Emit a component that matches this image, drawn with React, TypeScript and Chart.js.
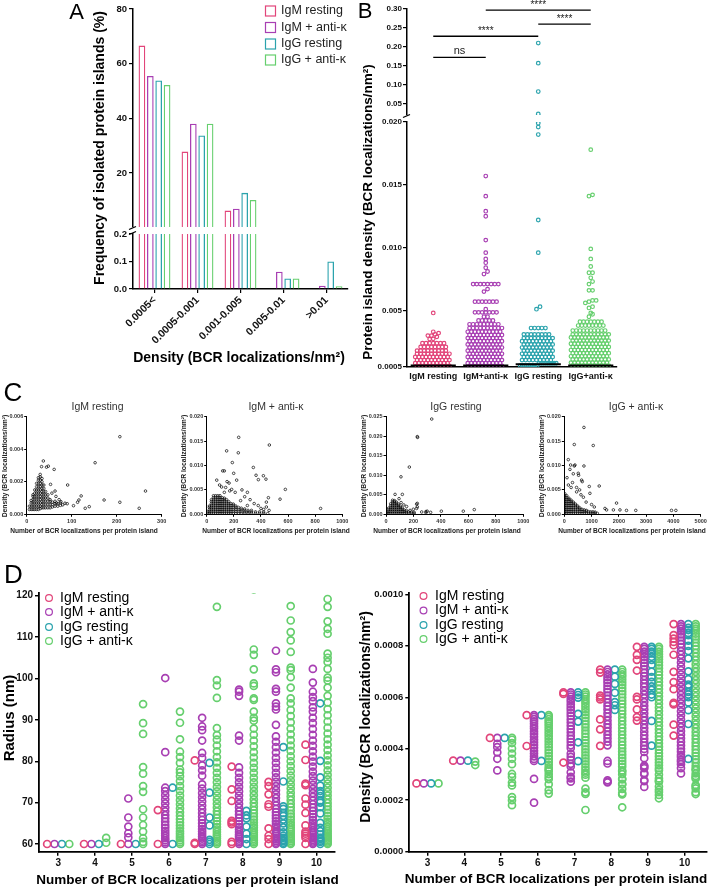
import React, { useEffect, useRef } from 'react';
import { Chart, registerables } from 'chart.js';

Chart.register(...registerables);

const PAGE_W = 713;
const PAGE_H = 888;
const FF = '"Liberation Sans", Arial, Helvetica, sans-serif';

const RED = '#E2457A';
const PURPLE = '#A83FB3';
const TEAL = '#2BA3AD';
const GREEN = '#66CF6E';
const SERIES_COLORS = [RED, PURPLE, TEAL, GREEN];
const SERIES_NAMES = ['IgM resting', 'IgM + anti-κ', 'IgG resting', 'IgG + anti-κ'];

// ================= Panel A (frequency, %) =================
const aCategories = ['0.0005<', '0.0005-0.001', '0.001-0.005', '0.005-0.01', '>0.01'];
const aIgMResting = [66.6, 27.8, 6.2, 0, 0];
const aIgMAnti = [55.5, 38.0, 6.9, 0.063, 0.012];
const aIgGResting = [53.8, 33.7, 12.7, 0.038, 0.1];
const aIgGAnti = [52.2, 38.0, 10.1, 0.038, 0.01];
const aUpperTicks = [20, 40, 60, 80];
const aLowerTicks = [0, 0.1, 0.2];

// ================= Panel B (density per island) =================
const bGroups = ['IgM resting', 'IgM+anti-κ', 'IgG resting', 'IgG+anti-κ'];
// individually visible points
const bIgMRestingPoints = [0.0048, 0.0033, 0.0032, 0.0031, 0.003, 0.003, 0.0029, 0.00274, 0.00272];
const bIgMAntiPoints = [0.0157, 0.0141, 0.0129, 0.0125, 0.0106, 0.0096, 0.0091, 0.0088, 0.0084, 0.0081, 0.0079, 0.0067, 0.0065, 0.0051, 0.0045, 0.0045];
const bIgGRestingPoints = [0.21, 0.157, 0.082, 0.0226, 0.0199, 0.0196, 0.019, 0.0122, 0.0096, 0.0053, 0.0051];
const bIgGAntiPoints = [0.0178, 0.0142, 0.0141, 0.0099, 0.0091, 0.0085, 0.008, 0.008, 0.0076, 0.0073, 0.0071, 0.0066, 0.0066, 0.0058, 0.0058, 0.0057, 0.0056, 0.0053, 0.0052, 0.0048, 0.0047, 0.0045];
// dense rows: [density, number of points in the row]
const bIgMRestingRows = [[0.0024, 7], [0.0021, 8], [0.0018, 9], [0.00155, 10], [0.0013, 10], [0.00105, 10], [0.0008, 10], [0.00058, 10]];
const bIgMAntiRows = [[0.0071, 8], [0.0057, 7], [0.00485, 7], [0.0042, 5], [0.0039, 9], [0.0036, 10], [0.0033, 10], [0.00305, 10], [0.0028, 10], [0.00255, 10], [0.0023, 10], [0.00205, 10], [0.0018, 10], [0.00155, 10], [0.0013, 10], [0.00105, 10], [0.0008, 10], [0.00058, 10]];
const bIgGRestingRows = [[0.0036, 5], [0.0031, 8], [0.0028, 9], [0.00255, 9], [0.0023, 9], [0.00205, 9], [0.0018, 9], [0.00155, 9], [0.0013, 9], [0.00105, 9], [0.0008, 9], [0.00062, 9]];
const bIgGAntiRows = [[0.0041, 7], [0.0038, 8], [0.0034, 10], [0.0031, 11], [0.00285, 11], [0.0026, 11], [0.00235, 11], [0.0021, 11], [0.00185, 11], [0.0016, 11], [0.00135, 11], [0.0011, 11], [0.00085, 11], [0.0006, 11]];
const bMedians = [0.00062, 0.00062, 0.00071, 0.00062];
const bUpperTicks = [0.05, 0.1, 0.15, 0.2, 0.25, 0.3];
const bLowerTicks = [0.0005, 0.005, 0.01, 0.015, 0.02];
const bBrackets = [
  { from: 0, to: 1, at: 0.172, label: 'ns' },
  { from: 0, to: 2, at: 0.228, label: '****' },
  { from: 2, to: 3, at: 0.26, label: '****' },
  { from: 1, to: 3, at: 0.297, label: '****' },
];

// ================= Panel C (density vs. localizations) =================
// columns: [x, y1, y2, ...] with y in 1e-4 localizations/nm²; singles: [x, y]
const cIgMRestingCols = [
  [6, 3, 5], [10, 3, 5, 7, 8.5], [14, 3, 5, 7, 9, 11, 12], [18, 3, 5, 7, 9, 11, 13, 15],
  [22, 3, 5, 7, 9, 11, 13, 15, 17, 19], [26, 3, 5, 7, 9, 11, 13, 15, 17, 19, 21, 22.5],
  [30, 3.5, 5, 7, 9, 11, 13, 15, 17, 19, 21, 23, 24.5], [34, 4, 6, 8, 10, 12, 14, 16, 18, 20, 22],
  [38, 4, 6, 8, 10, 12, 14, 16, 18], [42, 4, 6, 8, 10, 12, 14], [47, 4, 6, 8, 10, 12],
  [52, 4, 6, 8, 9], [57, 4.5, 6, 7.5], [63, 5, 6.5, 8], [69, 5, 6.5], [75, 5.5, 7],
];
const cIgMRestingSingles = [
  [207, 47.7], [152, 31.7], [264, 14.3], [172, 8.8], [207, 7.4], [250, 3.7], [37, 32.8], [33, 29.3], [44, 29],
  [48, 29.6], [61, 27.6], [91, 18], [53, 18.4], [121, 11.3], [116, 8.8], [113, 7.4], [104, 5.3], [139, 4.7],
  [130, 3.7], [63, 14.3], [56, 13], [65, 11], [76, 7.8], [85, 6.8], [80, 5.8], [90, 6.5], [72, 9], [66, 7],
];
const cIgMAntiCols = [
  [8, 2, 5], [20, 2, 6, 10, 14, 17], [35, 2, 6, 10, 14, 18, 22, 26, 30],
  [50, 2, 6, 10, 14, 18, 22, 26, 30, 34, 38], [66, 2, 6, 10, 14, 18, 22, 26, 30, 34, 38],
  [82, 2, 6, 10, 14, 18, 22, 26, 30, 34, 38], [98, 2, 6, 10, 14, 18, 22, 26, 30, 34, 38],
  [114, 2, 6, 10, 14, 18, 22, 26, 30, 34], [130, 2, 6, 10, 14, 18, 22, 26, 30, 33],
  [146, 2, 6, 10, 14, 18, 22, 26, 30], [162, 2, 6, 10, 14, 18, 22, 26], [178, 2, 6, 10, 14, 18, 22],
  [196, 2, 6, 10, 14, 18, 21], [215, 2, 6, 10, 14, 17], [235, 2, 6, 10, 14], [255, 2, 5.5, 9, 12.5],
  [280, 2, 5, 8, 11], [305, 2, 5, 8], [330, 2, 5, 8], [360, 2, 5], [390, 2, 5], [420, 1.5, 4.5], [450, 1.5],
];
const cIgMAntiSingles = [
  [236, 157.7], [462, 142], [147, 130], [233, 126], [189, 106], [118, 89], [130, 89], [199, 84], [344, 96],
  [418, 79], [437, 72], [74, 70], [150, 67], [165, 64], [580, 51], [541, 31], [840, 12], [455, 34], [300, 45],
  [184, 51], [364, 80], [381, 71], [221, 70], [420, 10], [440, 15], [460, 8], [400, 12], [110, 56], [140, 55],
  [170, 48], [260, 50], [95, 60], [210, 45], [130, 45], [280, 36], [320, 30], [250, 28], [350, 22], [380, 18],
  [440, 25], [300, 18],
];
const cIgGRestingCols = [
  [8, 2, 6], [20, 2, 7, 12, 16], [34, 2, 7, 12, 17, 22, 27], [48, 2, 7, 12, 17, 22, 27, 32, 36],
  [62, 2, 7, 12, 17, 22, 27, 32, 35], [76, 2, 7, 12, 17, 22, 27, 31], [90, 2, 7, 12, 17, 22, 26],
  [104, 2, 7, 12, 17, 21], [118, 2, 7, 12, 16], [132, 2, 7, 11], [148, 2, 6, 10], [165, 2, 6],
  [185, 2, 5.5], [205, 2, 5],
];
const cIgGRestingSingles = [
  [333, 244], [228, 199], [230, 197], [170, 121], [109, 96], [119, 51], [66, 51], [223, 26], [223, 15],
  [403, 8], [563, 8], [643, 12], [291, 7], [291, 4], [325, 5], [199, 13], [228, 28], [228, 19], [150, 20],
  [130, 24], [110, 30], [95, 40], [175, 10], [260, 6], [300, 8],
];
const cIgGAntiCols = [
  [20, 2, 6, 10, 14, 18, 22, 26, 30, 34, 38, 42], [90, 2, 6, 10, 14, 18, 22, 26, 30, 34, 38],
  [170, 2, 6, 10, 14, 18, 22, 26, 30, 33], [250, 2, 6, 10, 14, 18, 22, 26, 29], [330, 2, 6, 10, 14, 18, 22, 25],
  [410, 2, 6, 10, 14, 18, 21], [490, 2, 6, 10, 14, 17], [570, 2, 6, 10, 13], [650, 2, 6, 10], [730, 2, 6, 9],
  [810, 2, 6, 8], [890, 2, 5.5], [970, 2, 5], [1050, 2, 5], [1130, 2, 4.5], [1210, 2],
];
const cIgGAntiSingles = [
  [720, 178], [366, 143], [1061, 141], [720, 99], [366, 99], [207, 92], [524, 80], [634, 70], [915, 57],
  [1280, 58], [939, 43], [451, 46], [610, 40], [1915, 23], [1490, 12], [1550, 9], [1800, 9], [2040, 9],
  [2280, 8], [2620, 8], [3930, 8], [4090, 8], [232, 101], [390, 101], [330, 83], [512, 84], [659, 67],
  [146, 112], [100, 75], [300, 65], [450, 55], [700, 35], [800, 25], [1000, 20], [1100, 15], [560, 50],
  [250, 55], [150, 60],
];

// ================= Panel D (radius per island, nm) =================
const dCounts = [3, 4, 5, 6, 7, 8, 9, 10];
const dOffsets = [-0.3, -0.1, 0.1, 0.3];
const dIgMResting = [
  [60], [60], [60], [60, 68.2], [60, 60.3, 80.2],
  [60, 60.5, 64.8, 65.2, 65.6, 70.4, 73.2, 78.7],
  [60, 61.2, 62, 63.8, 69, 69.6, 72, 74, 75],
  [60, 61.5, 62, 62.5, 63, 64.5, 67.5, 69.5, 71, 74.2, 74.6, 80.3, 84],
];
const dIgMAnti = [
  [60], [60], [60, 61.6, 62.6, 64.2, 66.4, 71],
  [60, 60.4, 60.9, 61.4, 62, 62.6, 63.2, 63.9, 64.6, 65.4, 66.2, 67, 67.9, 68.8, 69.8, 70.8, 71.8, 72.8, 73.6, 82.2, 100.1],
  [60, 60.4, 60.8, 61.3, 61.8, 62.4, 63, 63.6, 64.3, 65, 65.8, 66.6, 67.5, 68.4, 69.3, 70.3, 71.3, 72.3, 73.4, 74.4, 76.5, 77.8, 79, 80.8, 82, 85, 87.5, 88.4, 90.5],
  [60, 60.4, 60.8, 61.3, 61.8, 62.3, 62.9, 63.5, 64.1, 64.8, 65.5, 66.3, 67.1, 67.9, 68.8, 69.7, 70.7, 71.7, 72.7, 73.8, 74.9, 76, 77.2, 78.5, 85, 86.2, 95.8, 96.8, 97.3],
  [60, 60.3, 60.7, 61.1, 61.5, 62, 62.5, 63, 63.6, 64.2, 64.8, 65.5, 66.2, 66.9, 67.7, 68.5, 69.3, 70.2, 71.1, 72, 73, 74, 75, 76.1, 77.2, 78.4, 79.6, 80.8, 82.1, 83.4, 84.7, 86, 88.8, 92.5, 93.2, 94, 96.8, 97.5, 101.5, 102.2, 106.7],
  [60, 60.3, 60.6, 61, 61.4, 61.8, 62.3, 62.8, 63.3, 63.9, 64.5, 65.1, 65.8, 66.5, 67.2, 68, 68.8, 69.6, 70.5, 71.4, 72.3, 73.3, 74.3, 75.3, 76.4, 77.5, 78.7, 79.9, 81.1, 82.4, 83.7, 85, 86.4, 87.8, 89.2, 90.5, 92, 93, 94.5, 95.5, 96.8, 99, 102.3],
];
const dIgGResting = [
  [60], [60], [60], [60, 73.6],
  [60, 60.5, 61, 64.5, 66.4, 72.4, 79.6],
  [60, 61.2, 62.5, 64.2, 66.2, 66.9, 68],
  [60, 60.3, 60.7, 61, 61.5, 62, 62.8, 64, 65, 65.9, 66.8, 67.5, 68.5, 69.1, 75.1, 83.4],
  [60, 60.5, 60.8, 61.2, 61.5, 62.3, 63.1, 63.9, 65.1, 67.4, 68.9, 70, 70.5, 71.6, 72.2, 72.8, 74.1, 76.1, 80.1, 94],
];
const dIgGAnti = [
  [60], [60.3, 61.5],
  [60, 60.5, 61.4, 63, 64.6, 66.4, 68.4, 72.6, 74, 77, 78.6, 86.6, 89.2, 93.8],
  [60, 60.4, 60.9, 61.4, 61.9, 62.5, 63.1, 63.8, 64.5, 65.2, 66, 66.8, 67.7, 68.6, 69.6, 70.6, 71.7, 72.8, 74, 75.2, 76.4, 77.3, 78, 79.6, 81, 82.3, 85.3, 89.3, 92],
  [60, 60.4, 60.8, 61.3, 61.8, 62.3, 62.9, 63.5, 64.1, 64.8, 65.5, 66.3, 67.1, 67.9, 68.8, 69.7, 70.7, 71.7, 72.7, 73.8, 74.9, 76, 77.2, 78.4, 79.7, 81, 82.4, 83.8, 85.2, 86.3, 88, 95.3, 98.3, 99.6, 117.3],
  [60, 60.4, 60.8, 61.2, 61.7, 62.2, 62.7, 63.3, 63.9, 64.5, 65.2, 65.9, 66.6, 67.4, 68.2, 69, 69.9, 70.8, 71.8, 72.8, 73.8, 74.9, 76, 77.2, 78.4, 79.6, 80.9, 82.2, 83.6, 85, 86.4, 87.9, 89.8, 90.5, 92, 94.8, 95.2, 98.2, 98.8, 102.2, 105.7, 107, 121.5],
  [60, 60.3, 60.7, 61.1, 61.5, 61.9, 62.4, 62.9, 63.4, 64, 64.6, 65.2, 65.9, 66.6, 67.3, 68.1, 68.9, 69.7, 70.6, 71.5, 72.4, 73.4, 74.4, 75.4, 76.5, 77.6, 78.8, 80, 81.2, 82.5, 83.8, 85.1, 86.5, 87.9, 89.4, 90.9, 92.4, 94, 95.2, 97.8, 100.3, 102, 102.6, 106.4, 109.2, 111.2, 114, 117.5],
  [60, 60.3, 60.6, 60.9, 61.3, 61.7, 62.1, 62.6, 63.1, 63.6, 64.2, 64.8, 65.4, 66.1, 66.8, 67.5, 68.3, 69.1, 69.9, 70.8, 71.7, 72.6, 73.6, 74.6, 75.6, 76.7, 77.8, 79, 80.2, 81.4, 82.7, 84, 85.3, 86.7, 88.1, 89.6, 91.1, 92.6, 94.2, 95.8, 97.8, 99.5, 100.2, 102.3, 104, 105, 106, 110.8, 112, 113.8, 117.3, 119.2],
];
const dRadiusTicks = [60, 70, 80, 90, 100, 110, 120];
const dDensityTicks = [0, 0.0002, 0.0004, 0.0006, 0.0008, 0.001];

// ================= helpers =================
type TextItem = { text: string; x: number; y: number; size: number; bold?: boolean; rotate?: number; align?: CanvasTextAlign; baseline?: CanvasTextBaseline; color?: string };
type Built = { config: any; after?: (c: any) => void };

function drawText(ctx: CanvasRenderingContext2D, t: TextItem) {
  ctx.save();
  ctx.font = `${t.bold ? 'bold ' : ''}${t.size}px ${FF}`;
  ctx.fillStyle = t.color || '#000';
  ctx.textAlign = t.align || 'center';
  ctx.textBaseline = t.baseline || 'middle';
  ctx.translate(t.x, t.y);
  if (t.rotate) ctx.rotate(t.rotate);
  ctx.fillText(t.text, 0, 0);
  ctx.restore();
}

function overlay(draw: (ctx: CanvasRenderingContext2D, chart: any) => void) {
  return {
    id: 'overlay',
    afterDraw(chart: any) {
      const ctx = chart.ctx;
      ctx.save();
      draw(ctx, chart);
      ctx.restore();
    },
  };
}

function base(L: number, T: number, R: number, B: number, yW: number, xH: number) {
  return {
    responsive: false,
    animation: false,
    devicePixelRatio: 1,
    events: [],
    layout: { padding: { left: L - yW, top: T, right: PAGE_W - R, bottom: PAGE_H - B - xH } },
    plugins: { legend: { display: false }, tooltip: { enabled: false }, title: { display: false } },
  };
}

function fitTo(axis: 'x' | 'y', size: number) {
  return (s: any) => {
    if (axis === 'y') s.width = size;
    else s.height = size;
    s.paddingLeft = 0;
    s.paddingRight = 0;
    s.paddingTop = 0;
    s.paddingBottom = 0;
  };
}

function linAxis(o: {
  axis: 'x' | 'y'; size: number; min: number; max: number; ticks: number[]; fmt: (v: number) => string;
  font: number; tickLen: number; border: number; pad?: number; noTickMarks?: boolean; display?: boolean; color?: string;
}) {
  return {
    type: 'linear',
    display: o.display === undefined ? true : o.display,
    min: o.min,
    max: o.max,
    afterBuildTicks: (s: any) => { s.ticks = o.ticks.map((v) => ({ value: v })); },
    afterFit: fitTo(o.axis, o.size),
    ticks: {
      callback: (v: any) => o.fmt(Number(v)),
      font: { family: FF, size: o.font, weight: 'bold' },
      color: o.color || '#111',
      padding: o.pad === undefined ? 2 : o.pad,
      autoSkip: false,
      maxRotation: 0,
      minRotation: 0,
    },
    grid: { display: !o.noTickMarks, drawOnChartArea: false, drawTicks: true, tickLength: o.tickLen, color: '#000', lineWidth: Math.max(1, o.border * 0.8) },
    border: { display: true, color: '#000', width: o.border },
  };
}

function expandRows(points: number[], rows: number[][]) {
  const out = points.slice();
  rows.forEach(([v, n]) => { for (let i = 0; i < n; i++) out.push(v); });
  return out;
}

function swarm(values: number[], center: number, yPx: (v: number) => number, pxPerX: number) {
  const pts = values.map((v) => ({ v, p: yPx(v) })).sort((a, b) => b.p - a.p);
  const out: { x: number; y: number }[] = [];
  let i = 0;
  let rowIdx = 0;
  while (i < pts.length) {
    const start = pts[i].p;
    const row = [pts[i]];
    i++;
    while (i < pts.length && Math.abs(pts[i].p - start) < 2.6) { row.push(pts[i]); i++; }
    const k = row.length;
    const gap = k > 1 ? Math.min(3.6, 36 / (k - 1)) : 0;
    const stagger = k >= 8 && rowIdx % 2 === 1 ? gap / 2 : 0;
    row.forEach((r, j) => out.push({ x: center + ((j - (k - 1) / 2) * gap - stagger) / pxPerX, y: r.v }));
    rowIdx++;
  }
  return out;
}

function cPoints(cols: number[][], singles: number[][]) {
  const out: { x: number; y: number }[] = [];
  cols.forEach(([x, ...ys]) => ys.forEach((y) => out.push({ x, y: y * 1e-4 })));
  singles.forEach(([x, y]) => out.push({ x, y: y * 1e-4 }));
  return out;
}

function dPoints(series: number[][], k: number, mode: 'radius' | 'density') {
  const pts: { x: number; y: number }[] = [];
  series.forEach((radii, i) => {
    const n = dCounts[i];
    radii.forEach((r) => pts.push({ x: n + dOffsets[k], y: mode === 'radius' ? r : n / (Math.PI * r * r) }));
  });
  return pts;
}

function breakMark(ctx: CanvasRenderingContext2D, x: number, y: number) {
  ctx.strokeStyle = '#000';
  ctx.lineWidth = 1.3;
  ctx.beginPath();
  ctx.moveTo(x - 4, y + 1.5);
  ctx.lineTo(x + 3, y - 1.5);
  ctx.stroke();
}

// ================= Panel A builders =================
const aSeries = [aIgMResting, aIgMAnti, aIgGResting, aIgGAnti];
function aDatasets() {
  return aSeries.map((d, i) => ({
    label: SERIES_NAMES[i],
    data: d,
    borderColor: SERIES_COLORS[i],
    backgroundColor: 'rgba(255,255,255,0)',
    borderWidth: 1.3,
    barPercentage: 0.8,
    categoryPercentage: 0.78,
    clip: 0,
  }));
}

function buildAUpper(): Built {
  return {
    config: {
      type: 'bar',
      data: { labels: aCategories, datasets: aDatasets() },
      options: {
        ...base(133, 9, 348, 227, 33, 0),
        scales: {
          x: { type: 'category', display: false, offset: true },
          y: linAxis({ axis: 'y', size: 33, min: 0.2, max: 80, ticks: aUpperTicks, fmt: (v) => String(v), font: 9.5, tickLen: 4, border: 1.5, pad: 2 }),
        },
      },
      plugins: [overlay((ctx) => {
        drawText(ctx, { text: 'A', x: 76.5, y: 12.5, size: 22 });
        drawText(ctx, { text: 'Frequency of isolated protein islands (%)', x: 100, y: 148, size: 14, bold: true, rotate: -Math.PI / 2 });
        const rows = [11, 27.5, 44, 60];
        SERIES_NAMES.forEach((name, i) => {
          ctx.strokeStyle = SERIES_COLORS[i];
          ctx.lineWidth = 1.2;
          ctx.strokeRect(265.5, rows[i] - 5, 10, 10);
          drawText(ctx, { text: name, x: 281, y: rows[i], size: 12.5, align: 'left', color: '#222' });
        });
        breakMark(ctx, 133, 228);
      })],
    },
  };
}

function buildALower(): Built {
  return {
    config: {
      type: 'bar',
      data: { labels: aCategories, datasets: aDatasets() },
      options: {
        ...base(133, 234, 348, 289, 33, 60),
        scales: {
          x: {
            type: 'category',
            offset: true,
            afterFit: fitTo('x', 60),
            ticks: { font: { family: FF, size: 10.5, weight: 'bold' }, color: '#111', maxRotation: 45, minRotation: 45, autoSkip: false, padding: 1 },
            grid: { display: true, drawOnChartArea: false, drawTicks: true, tickLength: 4, offset: false, color: '#000', lineWidth: 1.2 },
            border: { display: true, color: '#000', width: 1.5 },
          },
          y: linAxis({ axis: 'y', size: 33, min: 0, max: 0.2, ticks: aLowerTicks, fmt: (v) => v.toFixed(1), font: 9.5, tickLen: 4, border: 1.5, pad: 2 }),
        },
      },
      plugins: [overlay((ctx) => {
        drawText(ctx, { text: 'Density (BCR localizations/nm²)', x: 239, y: 358, size: 14, bold: true });
        breakMark(ctx, 133, 233);
      })],
    },
  };
}

// ================= Panel B builders =================
const bAllValues = [
  expandRows(bIgMRestingPoints, bIgMRestingRows),
  expandRows(bIgMAntiPoints, bIgMAntiRows),
  expandRows(bIgGRestingPoints, bIgGRestingRows),
  expandRows(bIgGAntiPoints, bIgGAntiRows),
];
const B_SPLIT = 0.02;

function bDataset(i: number, data: any[]) {
  return {
    label: bGroups[i],
    data,
    borderColor: SERIES_COLORS[i],
    backgroundColor: 'rgba(255,255,255,0)',
    pointRadius: 1.8,
    pointBorderWidth: 1.2,
    pointHoverRadius: 1.8,
    clip: 0,
  };
}

function buildBUpper(): Built {
  return {
    config: {
      type: 'scatter',
      data: { datasets: bAllValues.map((vals, i) => bDataset(i, vals.filter((v) => v > B_SPLIT).map((v) => ({ x: i, y: v })))) },
      options: {
        ...base(407, 9, 617, 115, 40, 0),
        scales: {
          x: { type: 'linear', display: false, min: -0.5, max: 3.5 },
          y: linAxis({ axis: 'y', size: 40, min: 0.02, max: 0.3, ticks: bUpperTicks, fmt: (v) => v.toFixed(2), font: 8, tickLen: 4, border: 1.5, pad: 1 }),
        },
      },
      plugins: [overlay((ctx, chart) => {
        const xs = chart.scales.x;
        const ys = chart.scales.y;
        bBrackets.forEach((b) => {
          const y = ys.getPixelForValue(b.at);
          const x1 = xs.getPixelForValue(b.from);
          const x2 = xs.getPixelForValue(b.to);
          ctx.strokeStyle = '#000';
          ctx.lineWidth = 1.3;
          ctx.beginPath();
          ctx.moveTo(x1, y);
          ctx.lineTo(x2, y);
          ctx.stroke();
          const isNs = b.label === 'ns';
          drawText(ctx, { text: b.label, x: (x1 + x2) / 2, y: y - (isNs ? 3 : 2), size: isNs ? 11 : 10, baseline: 'alphabetic', color: '#222' });
        });
        breakMark(ctx, 407, 116);
      })],
    },
  };
}

function buildBLower(): Built {
  return {
    config: {
      type: 'scatter',
      data: { datasets: bAllValues.map((vals, i) => bDataset(i, vals.filter((v) => v <= B_SPLIT).map((v) => ({ x: i, y: v })))) },
      options: {
        ...base(407, 122, 617, 367, 40, 30),
        scales: {
          x: linAxis({ axis: 'x', size: 30, min: -0.5, max: 3.5, ticks: [0, 1, 2, 3], fmt: (v) => bGroups[v], font: 9, tickLen: 0, border: 1.5, pad: 4, noTickMarks: true }),
          y: linAxis({ axis: 'y', size: 40, min: 0.0005, max: 0.02, ticks: bLowerTicks, fmt: (v) => (v < 0.001 ? '0.0005' : v.toFixed(3)), font: 8, tickLen: 4, border: 1.5, pad: 1 }),
        },
      },
      plugins: [overlay((ctx, chart) => {
        const xs = chart.scales.x;
        const ys = chart.scales.y;
        ctx.strokeStyle = '#000';
        ctx.lineWidth = 2;
        bMedians.forEach((m, i) => {
          const y = ys.getPixelForValue(m);
          ctx.beginPath();
          ctx.moveTo(xs.getPixelForValue(i - 0.43), y);
          ctx.lineTo(xs.getPixelForValue(i + 0.43), y);
          ctx.stroke();
        });
        drawText(ctx, { text: 'B', x: 365, y: 12, size: 22 });
        drawText(ctx, { text: 'Protein island density (BCR localizations/nm²)', x: 368, y: 212, size: 13.5, bold: true, rotate: -Math.PI / 2 });
      })],
    },
    after: (chart: any) => {
      const xs = chart.scales.x;
      const ys = chart.scales.y;
      const pxPerX = xs.getPixelForValue(1) - xs.getPixelForValue(0);
      bAllValues.forEach((vals, i) => {
        chart.data.datasets[i].data = swarm(vals.filter((v) => v <= B_SPLIT), i, (v) => ys.getPixelForValue(v), pxPerX);
      });
      chart.update('none');
    },
  };
}

// ================= Panel C builders =================
type CSpec = {
  L: number; R: number; xMax: number; xTicks: number[]; yMax: number; yTicks: number[];
  data: { x: number; y: number }[]; title: string; titleX: number; yTitleX: number; xTitleX: number; letter?: boolean;
};
const C_T = 416.7;
const C_B = 514.3;

function buildC(s: CSpec): Built {
  return {
    config: {
      type: 'scatter',
      data: { datasets: [{ label: s.title, data: s.data, borderColor: '#000', backgroundColor: 'rgba(255,255,255,0)', pointRadius: 1.3, pointBorderWidth: 0.7, pointHoverRadius: 1.3, clip: 0 }] },
      options: {
        ...base(s.L, C_T, s.R, C_B, 25, 14),
        scales: {
          x: linAxis({ axis: 'x', size: 14, min: 0, max: s.xMax, ticks: s.xTicks, fmt: (v) => String(v), font: 5.5, tickLen: 2.5, border: 1, pad: 1, color: '#333' }),
          y: linAxis({ axis: 'y', size: 25, min: 0, max: s.yMax, ticks: s.yTicks, fmt: (v) => v.toFixed(3), font: 5.5, tickLen: 2.5, border: 1, pad: 1, color: '#333' }),
        },
      },
      plugins: [overlay((ctx) => {
        if (s.letter) drawText(ctx, { text: 'C', x: 13, y: 394, size: 26 });
        drawText(ctx, { text: s.title, x: s.titleX, y: 406.7, size: 10.5, color: '#333' });
        drawText(ctx, { text: 'Density (BCR localizations/nm²)', x: s.yTitleX, y: 466, size: 6.8, bold: true, rotate: -Math.PI / 2, color: '#222' });
        drawText(ctx, { text: 'Number of BCR localizations per protein island', x: s.xTitleX, y: 531, size: 6.6, bold: true, color: '#222' });
      })],
    },
  };
}

const buildC1 = () => buildC({ L: 26.7, R: 161.7, xMax: 300, xTicks: [0, 100, 200, 300], yMax: 0.006, yTicks: [0, 0.002, 0.004, 0.006], data: cPoints(cIgMRestingCols, cIgMRestingSingles), title: 'IgM resting', titleX: 97.5, yTitleX: 5.5, xTitleX: 84, letter: true });
const buildC2 = () => buildC({ L: 206.7, R: 342.3, xMax: 1000, xTicks: [0, 200, 400, 600, 800, 1000], yMax: 0.02, yTicks: [0, 0.005, 0.01, 0.015, 0.02], data: cPoints(cIgMAntiCols, cIgMAntiSingles), title: 'IgM + anti-κ', titleX: 276, yTitleX: 184, xTitleX: 276 });
const buildC3 = () => buildC({ L: 386, R: 523.3, xMax: 1000, xTicks: [0, 200, 400, 600, 800, 1000], yMax: 0.025, yTicks: [0, 0.005, 0.01, 0.015, 0.02, 0.025], data: cPoints(cIgGRestingCols, cIgGRestingSingles), title: 'IgG resting', titleX: 456, yTitleX: 364, xTitleX: 447 });
const buildC4 = () => buildC({ L: 564.3, R: 700.7, xMax: 5000, xTicks: [0, 1000, 2000, 3000, 4000, 5000], yMax: 0.02, yTicks: [0, 0.005, 0.01, 0.015, 0.02], data: cPoints(cIgGAntiCols, cIgGAntiSingles), title: 'IgG + anti-κ', titleX: 636, yTitleX: 542, xTitleX: 632 });

// ================= Panel D builders =================
const dSeries = [dIgMResting, dIgMAnti, dIgGResting, dIgGAnti];

function dDatasets(mode: 'radius' | 'density') {
  return dSeries.map((s, k) => ({
    label: SERIES_NAMES[k],
    data: dPoints(s, k, mode),
    borderColor: SERIES_COLORS[k],
    backgroundColor: 'rgba(255,255,255,0)',
    pointRadius: 3.5,
    pointBorderWidth: 1.7,
    pointHoverRadius: 3.5,
    clip: 0,
  }));
}

function circleLegend(ctx: CanvasRenderingContext2D, cx: number, tx: number, rows: number[]) {
  SERIES_NAMES.forEach((name, i) => {
    ctx.strokeStyle = SERIES_COLORS[i];
    ctx.lineWidth = 1.2;
    ctx.beginPath();
    ctx.arc(cx, rows[i], 3.4, 0, Math.PI * 2);
    ctx.stroke();
    drawText(ctx, { text: name, x: tx, y: rows[i], size: 14, align: 'left' });
  });
}

function buildDLeft(): Built {
  return {
    config: {
      type: 'scatter',
      data: { datasets: dDatasets('radius') },
      options: {
        ...base(39, 593, 335, 851.7, 36, 22),
        scales: {
          x: linAxis({ axis: 'x', size: 22, min: 2.48, max: 10.5, ticks: dCounts, fmt: (v) => String(v), font: 10, tickLen: 4, border: 1.8, pad: 2 }),
          y: linAxis({ axis: 'y', size: 36, min: 58.14, max: 120.65, ticks: dRadiusTicks, fmt: (v) => String(v), font: 10, tickLen: 4, border: 1.8, pad: 2 }),
        },
      },
      plugins: [overlay((ctx) => {
        drawText(ctx, { text: 'D', x: 13.5, y: 576, size: 26 });
        drawText(ctx, { text: 'Radius (nm)', x: 10, y: 718, size: 15, bold: true, rotate: -Math.PI / 2 });
        drawText(ctx, { text: 'Number of BCR localizations per protein island', x: 187.5, y: 880, size: 13.5, bold: true });
        circleLegend(ctx, 49, 60, [598, 612, 627, 641]);
      })],
    },
  };
}

function buildDRight(): Built {
  return {
    config: {
      type: 'scatter',
      data: { datasets: dDatasets('density') },
      options: {
        ...base(409.3, 593, 706.7, 851.7, 40, 22),
        scales: {
          x: linAxis({ axis: 'x', size: 22, min: 2.505, max: 10.6, ticks: dCounts, fmt: (v) => String(v), font: 10, tickLen: 4, border: 1.8, pad: 2 }),
          y: linAxis({ axis: 'y', size: 40, min: 0, max: 0.001005, ticks: dDensityTicks, fmt: (v) => v.toFixed(4), font: 9.5, tickLen: 4, border: 1.8, pad: 2 }),
        },
      },
      plugins: [overlay((ctx) => {
        drawText(ctx, { text: 'Density (BCR localizations/nm²)', x: 366, y: 717, size: 14, bold: true, rotate: -Math.PI / 2 });
        drawText(ctx, { text: 'Number of BCR localizations per protein island', x: 556, y: 879, size: 13.5, bold: true });
        circleLegend(ctx, 423.5, 435, [596, 610.5, 625, 639]);
      })],
    },
  };
}

// ================= React =================
function ChartLayer({ build }: { build: () => Built }) {
  const ref = useRef<HTMLCanvasElement | null>(null);
  useEffect(() => {
    if (!ref.current) return;
    const { config, after } = build();
    const chart = new Chart(ref.current, config);
    if (after) after(chart);
    return () => chart.destroy();
  }, [build]);
  return (
    <canvas
      ref={ref}
      width={PAGE_W}
      height={PAGE_H}
      style={{ position: 'absolute', left: 0, top: 0, width: PAGE_W, height: PAGE_H }}
    />
  );
}

const BUILDERS = [buildAUpper, buildALower, buildBUpper, buildBLower, buildC1, buildC2, buildC3, buildC4, buildDLeft, buildDRight];

export default function App() {
  return (
    <div style={{ position: 'absolute', left: 0, top: 0, width: PAGE_W, height: PAGE_H, background: '#fff', overflow: 'hidden' }}>
      {BUILDERS.map((b, i) => (
        <ChartLayer key={i} build={b} />
      ))}
    </div>
  );
}
